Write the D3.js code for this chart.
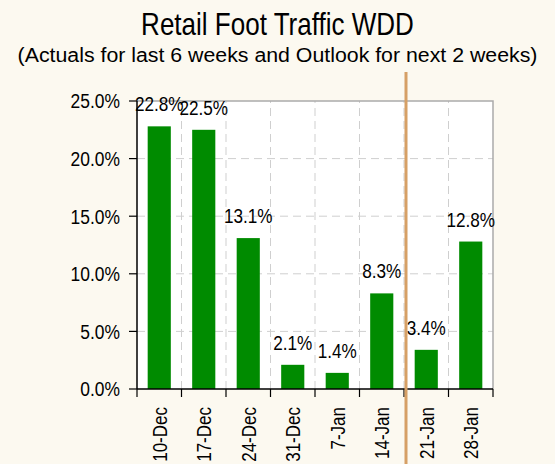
<!DOCTYPE html>
<html>
<head>
<meta charset="utf-8">
<script src="https://cdn.jsdelivr.net/npm/d3@7"></script>
<style>
  body { margin: 0; background: #fcf9f0; }
  text { font-family: "Liberation Sans", Arial, sans-serif; fill: #000; }
</style>
</head>
<body>
<div id="chart"></div>
<script>
// data
const weeks = ['10-Dec', '17-Dec', '24-Dec', '31-Dec', '7-Jan', '14-Jan', '21-Jan', '28-Jan'];
const traffic = [22.8, 22.5, 13.1, 2.1, 1.4, 8.3, 3.4, 12.8];
const yTicks = [0, 5, 10, 15, 20, 25];
const outlookStart = '21-Jan';

const w = 555, h = 464;
const margin = {top: 101, right: 62, bottom: 75, left: 137};

const svg = d3.select('#chart').append('svg')
	.attr('width', w).attr('height', h);

svg.append('rect').attr('width', w).attr('height', h).attr('fill', '#fcf9f0');

const x = d3.scaleBand()
	.domain(weeks)
	.range([margin.left, w - margin.right])
	.paddingInner(0.48)
	.paddingOuter(0.24);
const y = d3.scaleLinear()
	.domain([0, 25])
	.range([h - margin.bottom, margin.top]);

const step = x.step();
const edge = d => x(d) - step * x.paddingOuter();
const edges = weeks.map(edge).concat([w - margin.right]);

//plot panel
svg.append('rect')
	.attr('x', margin.left).attr('y', margin.top)
	.attr('width', w - margin.left - margin.right)
	.attr('height', h - margin.top - margin.bottom)
	.attr('fill', '#fff');

//grid
const grid = svg.append('g')
	.attr('stroke', '#cfcfcf')
	.attr('stroke-width', 1)
	.attr('stroke-dasharray', '8,5');
grid.selectAll('.gx').data(edges.slice(1, -1)).enter()
	.append('line')
	.attr('x1', d => d).attr('x2', d => d)
	.attr('y1', y(0)).attr('y2', y(25));
grid.selectAll('.gy').data(yTicks.slice(1, -1)).enter()
	.append('line')
	.attr('y1', d => y(d)).attr('y2', d => y(d))
	.attr('x1', margin.left).attr('x2', w - margin.right);

//frame top + right
svg.append('path')
	.attr('d', `M${margin.left},${y(25)}H${w - margin.right}V${y(0)}`)
	.attr('fill', 'none')
	.attr('stroke', '#aaa')
	.attr('stroke-width', 1.5);

//bars
svg.selectAll('.bar').data(weeks).enter()
	.append('rect').attr('class', 'bar')
	.attr('x', d => x(d))
	.attr('width', x.bandwidth())
	.attr('y', (d, i) => y(traffic[i]))
	.attr('height', (d, i) => y(0) - y(traffic[i]))
	.attr('fill', '#008b00');

//bar labels
svg.selectAll('.lab').data(weeks).enter()
	.append('text').attr('class', 'lab')
	.attr('text-anchor', 'middle')
	.attr('font-size', 19.5)
	.attr('transform', (d, i) => `translate(${x(d) + x.bandwidth() / 2},${y(traffic[i]) - 15}) scale(0.88,1)`)
	.text((d, i) => traffic[i].toFixed(1) + '%');

//axes
const yAxis = svg.append('g');
yAxis.append('line')
	.attr('x1', margin.left).attr('x2', margin.left)
	.attr('y1', y(25)).attr('y2', y(0))
	.attr('stroke', '#000').attr('stroke-width', 1.5);
yAxis.selectAll('.tick').data(yTicks).enter()
	.append('line')
	.attr('x1', margin.left - 8).attr('x2', margin.left)
	.attr('y1', d => y(d)).attr('y2', d => y(d))
	.attr('stroke', '#000').attr('stroke-width', 1.2);
yAxis.selectAll('.tl').data(yTicks).enter()
	.append('text')
	.attr('text-anchor', 'end')
	.attr('font-size', 20.5)
	.attr('dy', '0.36em')
	.attr('transform', d => `translate(120,${y(d)}) scale(0.85,1)`)
	.text(d => d3.format('.1f')(d) + '%');

const xAxis = svg.append('g');
xAxis.append('line')
	.attr('x1', margin.left).attr('x2', w - margin.right)
	.attr('y1', y(0)).attr('y2', y(0))
	.attr('stroke', '#000').attr('stroke-width', 1.5);
xAxis.selectAll('.tick').data(edges).enter()
	.append('line')
	.attr('x1', d => d).attr('x2', d => d)
	.attr('y1', y(0)).attr('y2', y(0) + 8)
	.attr('stroke', '#000').attr('stroke-width', 1.2);
xAxis.selectAll('.tl').data(weeks).enter()
	.append('text')
	.attr('text-anchor', 'end')
	.attr('font-size', 21)
	.attr('dy', '0.35em')
	.attr('transform', d => `translate(${x(d) + x.bandwidth() / 2},${y(0) + 18}) rotate(-90) scale(0.81,1)`)
	.text(d => d);

//outlook divider
const divX = edge(outlookStart) + 2;
svg.append('line')
	.attr('x1', divX).attr('x2', divX)
	.attr('y1', 72).attr('y2', h)
	.attr('stroke', '#d6a066')
	.attr('stroke-width', 3);

//titles
svg.append('text')
	.attr('text-anchor', 'middle')
	.attr('font-size', 31)
	.attr('transform', `translate(${w / 2},35) scale(0.84,1)`)
	.text('Retail Foot Traffic WDD');
svg.append('text')
	.attr('text-anchor', 'middle')
	.attr('font-size', 20)
	.attr('transform', `translate(${w / 2},62) scale(1.066,1)`)
	.text('(Actuals for last 6 weeks and Outlook for next 2 weeks)');
</script>
</body>
</html>
